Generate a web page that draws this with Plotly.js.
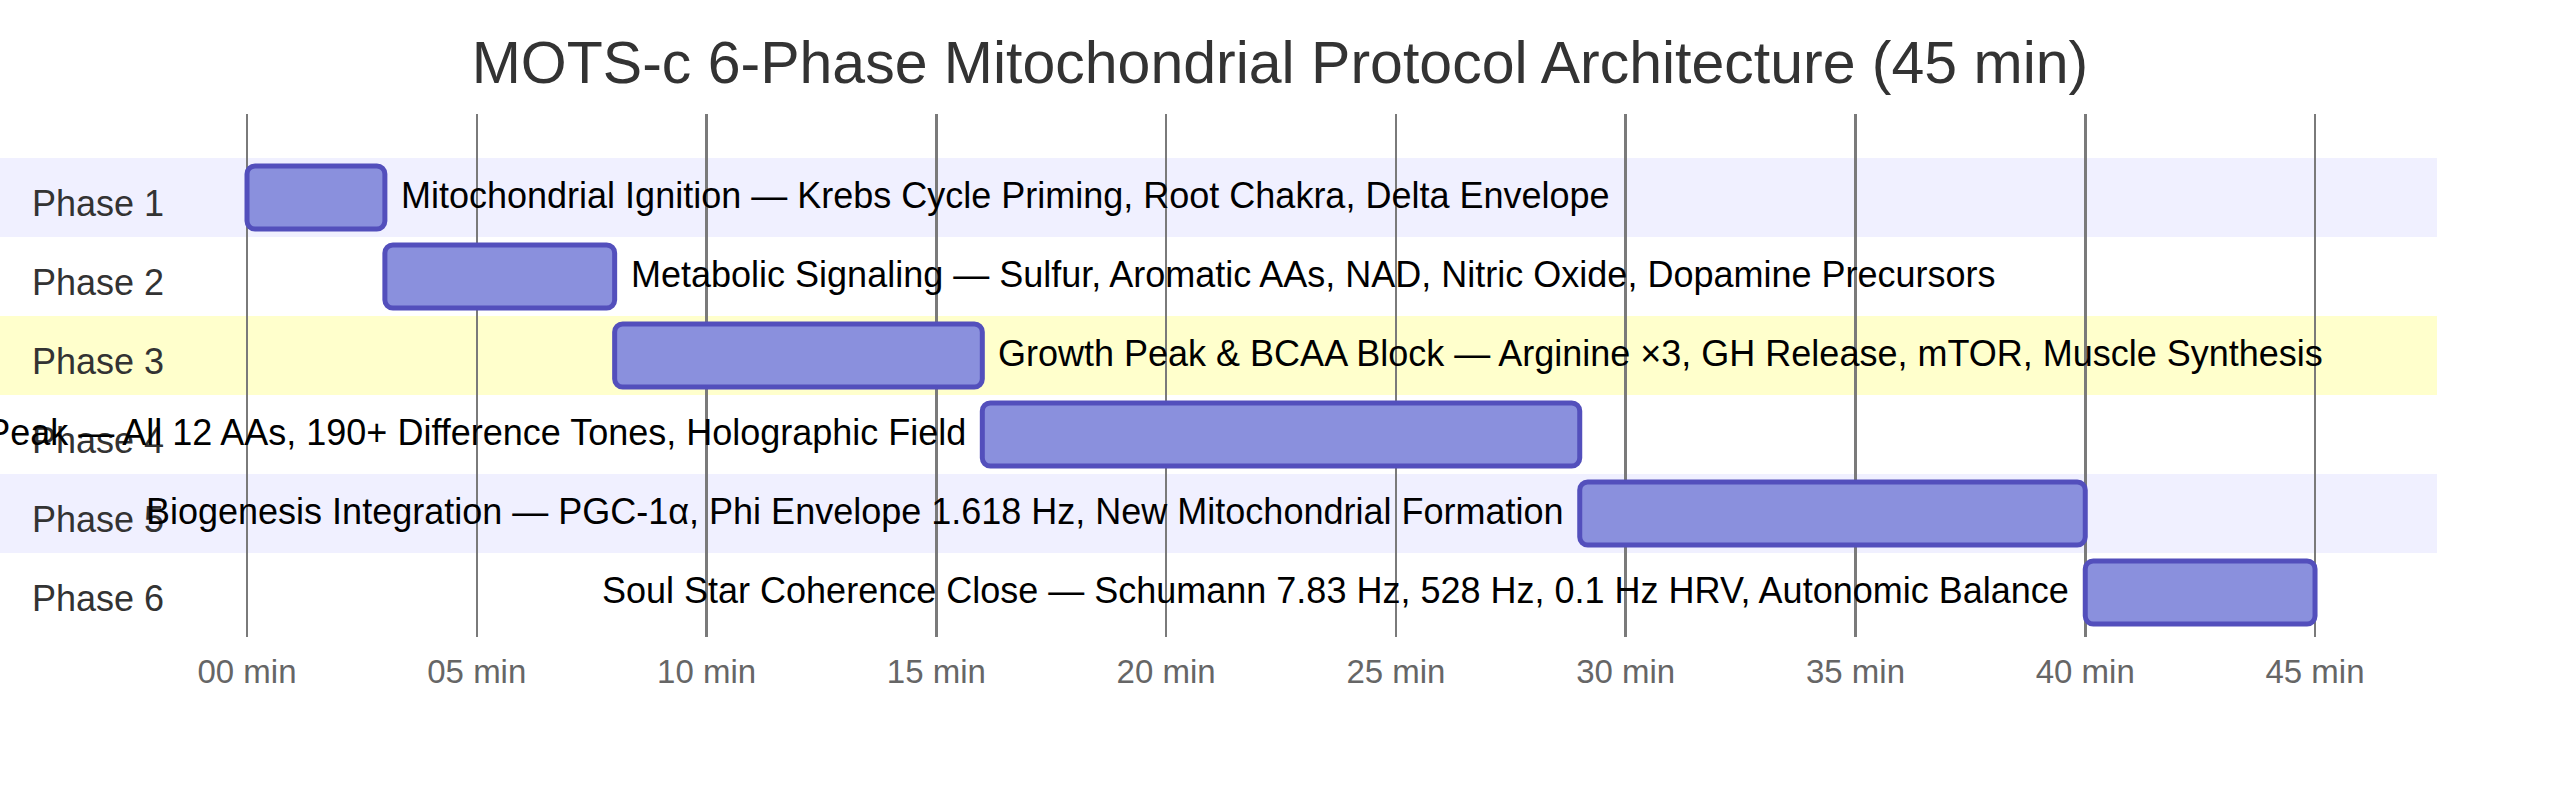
<!DOCTYPE html>
<html>
<head>
<meta charset="utf-8">
<script src="https://cdn.plot.ly/plotly-3.0.1.min.js"></script>
<style>
  html, body { margin: 0; padding: 0; background: #fff; }
  #myDiv { width: 2560px; height: 801px; }
</style>
</head>
<body>
<div id="myDiv"></div>
<script>
var phases = ['Phase 1', 'Phase 2', 'Phase 3', 'Phase 4', 'Phase 5', 'Phase 6'];
var startMin = [0, 3, 8, 16, 29, 40];
var endMin = [3, 8, 16, 29, 40, 45];
var taskLabels = [
  'Mitochondrial Ignition — Krebs Cycle Priming, Root Chakra, Delta Envelope',
  'Metabolic Signaling — Sulfur, Aromatic AAs, NAD, Nitric Oxide, Dopamine Precursors',
  'Growth Peak & BCAA Block — Arginine ×3, GH Release, mTOR, Muscle Synthesis',
  'Resonance Peak — All 12 AAs, 190+ Difference Tones, Holographic Field',
  'Biogenesis Integration — PGC-1α, Phi Envelope 1.618 Hz, New Mitochondrial Formation',
  'Soul Star Coherence Close — Schumann 7.83 Hz, 528 Hz, 0.1 Hz HRV, Autonomic Balance'
];
var labelSide = ['right', 'right', 'right', 'left', 'left', 'left'];
var tickVals = [0, 5, 10, 15, 20, 25, 30, 35, 40, 45];
var tickText = ['00 min', '05 min', '10 min', '15 min', '20 min', '25 min', '30 min', '35 min', '40 min', '45 min'];
var bandColors = ['#f0f0ff', '#ffffff', '#ffffcc', '#ffffff', '#f0f0ff', '#ffffff'];

var font = 'Liberation Sans, Arial, sans-serif';

var durations = startMin.map(function (s, i) { return endMin[i] - s; });

var data = [{
  type: 'bar',
  orientation: 'h',
  y: phases,
  x: durations,
  base: startMin,
  width: 0.8,
  marker: {
    color: '#8a90dd',
    line: { color: '#534fbc', width: 5 },
    cornerradius: 8
  },
  hoverinfo: 'skip',
  showlegend: false
}];

var shapes = phases.map(function (p, i) {
  return {
    type: 'rect', layer: 'below',
    xref: 'paper', x0: 0, x1: 1,
    yref: 'y', y0: i - 0.5, y1: i + 0.5,
    fillcolor: bandColors[i], line: { width: 0 }
  };
});

var annotations = [];
phases.forEach(function (p, i) {
  annotations.push({
    xref: 'paper', x: 30 / 2437, xanchor: 'left',
    yref: 'y', y: p, yanchor: 'middle', yshift: -6,
    text: p, showarrow: false,
    font: { family: font, size: 36, color: '#333333' }
  });
  var right = labelSide[i] === 'right';
  annotations.push({
    xref: 'x', x: right ? endMin[i] : startMin[i],
    xanchor: right ? 'left' : 'right', xshift: right ? 14 : -14,
    yref: 'y', y: p, yanchor: 'middle', yshift: 2,
    text: taskLabels[i], showarrow: false,
    font: { family: font, size: 36, color: '#000000' }
  });
});

var layout = {
  width: 2560,
  height: 801,
  margin: { l: 0, r: 123, t: 114, b: 164 },
  paper_bgcolor: '#ffffff',
  plot_bgcolor: 'rgba(0,0,0,0)',
  title: {
    text: 'MOTS-c 6-Phase Mitochondrial Protocol Architecture (45 min)',
    font: { family: font, size: 59, color: '#333333' },
    x: 0.5, xref: 'container', xanchor: 'center',
    y: 1 - 62 / 801, yref: 'container', yanchor: 'middle'
  },
  xaxis: {
    range: [-5.375, 47.654],
    tickvals: tickVals,
    ticktext: tickText,
    tickfont: { family: font, size: 33, color: '#666666' },
    showgrid: true,
    gridcolor: '#7a7a7a',
    gridwidth: 2.5,
    zeroline: false,
    showline: false,
    ticks: '',
    ticklabelstandoff: 12,
    fixedrange: true
  },
  yaxis: {
    type: 'category',
    categoryorder: 'array',
    categoryarray: phases,
    range: [5.563, -1.057],
    showticklabels: false,
    showgrid: false,
    zeroline: false,
    showline: false,
    ticks: '',
    fixedrange: true
  },
  shapes: shapes,
  annotations: annotations,
  bargap: 0.2
};

Plotly.newPlot('myDiv', data, layout, { displayModeBar: false, staticPlot: true });
</script>
</body>
</html>
